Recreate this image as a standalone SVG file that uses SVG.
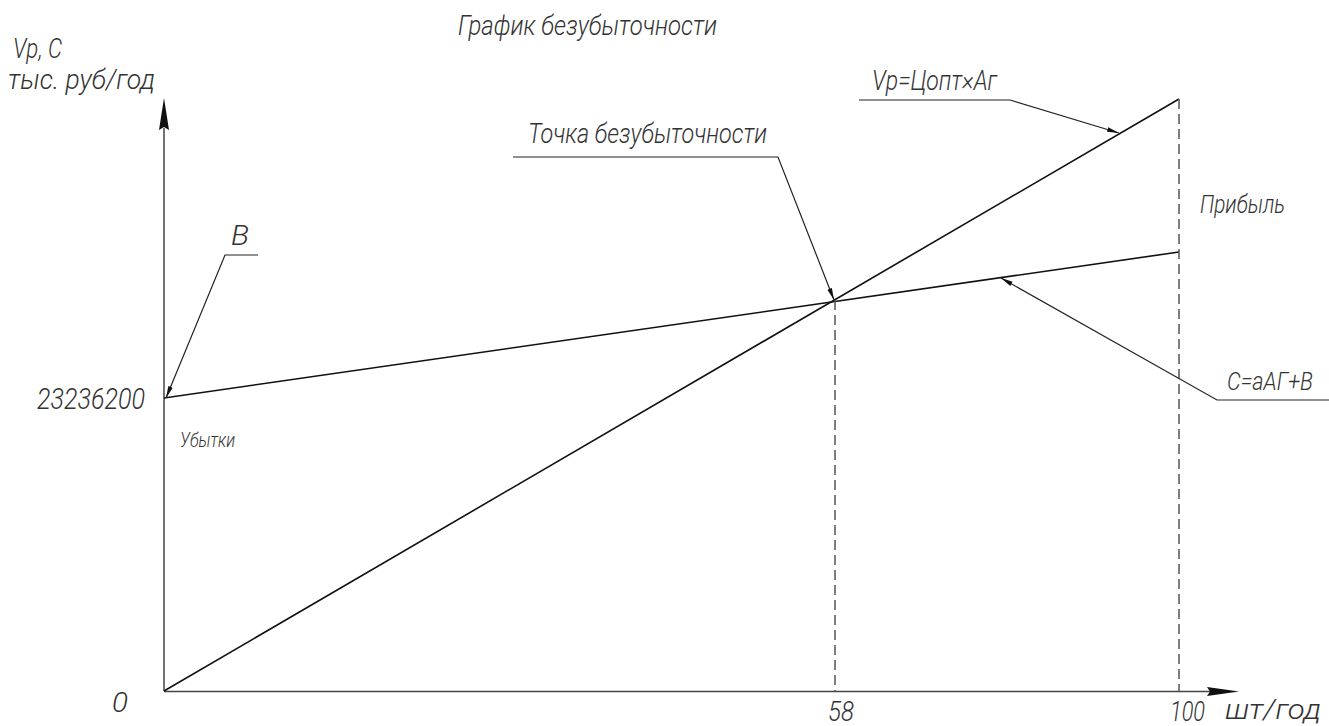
<svg xmlns="http://www.w3.org/2000/svg" width="1329" height="726" viewBox="0 0 1329 726">
<style>
text{font-family:Roboto,"DejaVu Sans",sans-serif;font-style:italic;font-weight:300;fill:#333}
.ax{stroke:#444;stroke-width:1.5;fill:none}
.ln{stroke:#111;stroke-width:1.6;fill:none}
.dash{stroke:#555;stroke-width:1.5;stroke-dasharray:10 5;fill:none}
.ld{stroke:#222;stroke-width:1.2;fill:none}
.ahd{fill:#111}
</style>
<defs>
<marker id="ah" markerUnits="userSpaceOnUse" markerWidth="12" markerHeight="6" refX="12" refY="3" orient="auto"><path d="M0,0.6 L12,3 L0,5.4 z" fill="#111"/></marker>
</defs>
<rect width="1329" height="726" fill="#fff"/>
<g id="title"><text x="458" y="35" font-size="28" textLength="259" lengthAdjust="spacingAndGlyphs">График безубыточности</text></g>
<g id="axes">
<line class="ax" x1="164" y1="691" x2="164" y2="128"/>
<polygon class="ahd" points="164,98 159,130 164,127 169,130"/>
<line class="ax" x1="164" y1="691.5" x2="1210" y2="691.5"/>
<polygon class="ahd" points="1239,691.5 1207,687 1210,691.5 1207,696"/>
</g>
<g id="y-label">
<text x="13" y="58" font-size="27" textLength="49" lengthAdjust="spacingAndGlyphs">Vp, C</text>
<text x="8" y="89" font-size="28" textLength="147" lengthAdjust="spacingAndGlyphs">тыс. руб/год</text>
</g>
<g id="x-labels">
<text x="112" y="712" font-size="28" textLength="16" lengthAdjust="spacingAndGlyphs">0</text>
<text x="828" y="721" font-size="28" textLength="26" lengthAdjust="spacingAndGlyphs">58</text>
<text x="1170" y="721" font-size="28" textLength="35" lengthAdjust="spacingAndGlyphs">100</text>
<text x="1225" y="719" font-size="28" textLength="96" lengthAdjust="spacingAndGlyphs">шт/год</text>
<text x="37" y="409" font-size="30" textLength="108" lengthAdjust="spacingAndGlyphs">23236200</text>
</g>
<g id="lines">
<line id="revenue" class="ln" x1="164" y1="691" x2="1179" y2="99"/>
<line id="cost" class="ln" x1="164" y1="398" x2="1179" y2="252"/>
<line class="dash" x1="835" y1="300" x2="835" y2="691"/>
<line class="dash" x1="1179" y1="99" x2="1179" y2="691"/>
</g>
<g id="label-b">
<text x="231" y="245" font-size="28" textLength="18" lengthAdjust="spacingAndGlyphs">В</text>
</g>
<g id="label-losses"><text x="180" y="447" font-size="21" textLength="55" lengthAdjust="spacingAndGlyphs">Убытки</text></g>
<g id="label-breakeven"><text x="528" y="143" font-size="28" textLength="239" lengthAdjust="spacingAndGlyphs">Точка безубыточности</text></g>
<g id="label-vp"><text x="872" y="90" font-size="28" textLength="125" lengthAdjust="spacingAndGlyphs">Vp=Цопт×Аг</text></g>
<g id="label-profit"><text x="1200" y="213" font-size="25" textLength="85" lengthAdjust="spacingAndGlyphs">Прибыль</text></g>
<g id="label-cost"><text x="1227" y="390" font-size="25" textLength="86" lengthAdjust="spacingAndGlyphs">С=аАГ+В</text></g>
<g id="connectors">
<polyline class="ld" points="258,255 225,255 166,398" marker-end="url(#ah)"/>
<polyline class="ld" points="513,157 778,157 834,300" marker-end="url(#ah)"/>
<polyline class="ld" points="859,100 1010,100 1119,133" marker-end="url(#ah)"/>
<polyline class="ld" points="1329,400 1217,400 1001,278" marker-end="url(#ah)"/>
</g>
</svg>
